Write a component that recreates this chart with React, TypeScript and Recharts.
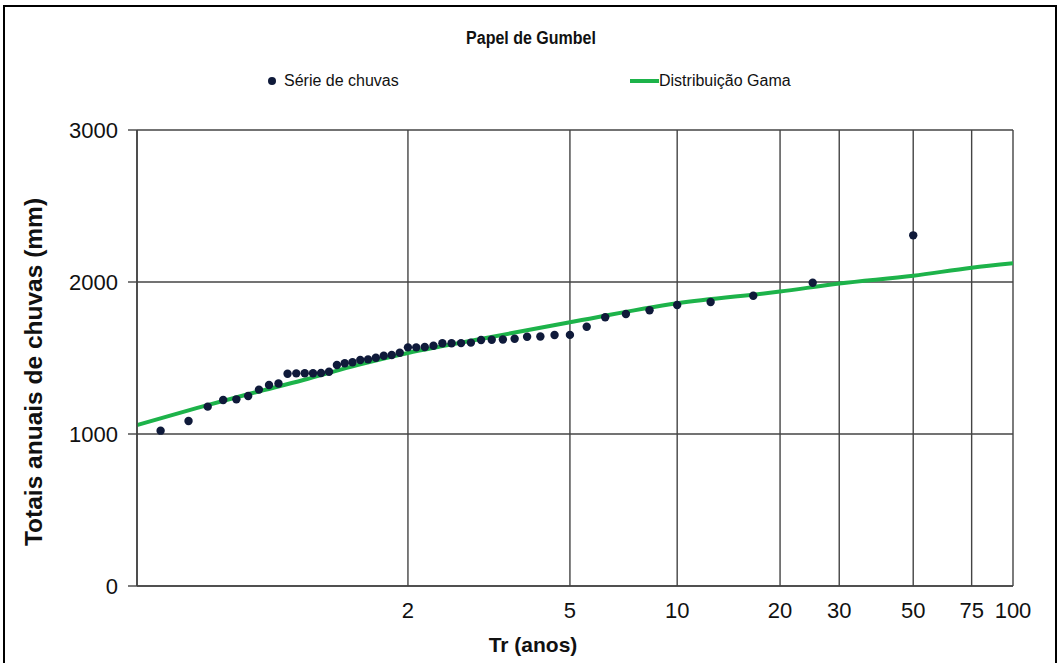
import { ComposedChart, Line, Scatter, XAxis, YAxis, CartesianGrid } from 'recharts'

// Gumbel paper: the x axis is the reduced variate of the return period
const gumbel = (tr: number) => -Math.log(-Math.log(1 - 1 / tr))

const TR_TICKS = [2, 5, 10, 20, 30, 50, 75, 100]
const Y_TICKS = [0, 1000, 2000, 3000]

// Série de chuvas (plotting position Tr, annual total in mm)
const SERIE_TR = [
  50, 25, 16.667, 12.5, 10, 8.333, 7.143, 6.25, 5.556, 5,
  4.545, 4.167, 3.846, 3.571, 3.333, 3.125, 2.941, 2.778, 2.632, 2.5,
  2.381, 2.273, 2.174, 2.083, 2, 1.9231, 1.8519, 1.7857, 1.7241, 1.6667,
  1.6129, 1.5625, 1.5152, 1.4706, 1.4286, 1.3889, 1.3514, 1.3158, 1.2821, 1.25,
  1.2195, 1.1905, 1.1628, 1.1364, 1.1111, 1.087, 1.0638, 1.0417, 1.0204,
]
const SERIE_MM = [
  2307, 1995, 1910, 1868, 1849, 1814, 1789, 1768, 1706, 1652,
  1651, 1641, 1640, 1627, 1622, 1620, 1618, 1601, 1598, 1597,
  1597, 1581, 1572, 1570, 1570, 1535, 1520, 1515, 1502, 1491,
  1487, 1472, 1465, 1454, 1410, 1401, 1400, 1400, 1399, 1396,
  1332, 1322, 1292, 1250, 1228, 1224, 1180, 1086, 1022,
]

// Distribuição Gama
const GAMA_TR = [1.01, 1.05, 1.14, 1.31, 1.6, 2, 2.35, 3, 5, 10, 20, 30, 50, 75, 100]
const GAMA_MM = [1059, 1170, 1265, 1355, 1455, 1533, 1575, 1630, 1735, 1860, 1937, 1990, 2041, 2094, 2123]

const serie = SERIE_TR.map((tr, i) => ({ u: gumbel(tr), value: SERIE_MM[i] }))
const gama = GAMA_TR.map((tr, i) => ({ u: gumbel(tr), value: GAMA_MM[i] }))

const GRID = '#444'
const GREEN = '#1db34a'
const DOT = '#0f1a3a'
const FONT = '"Liberation Sans", Arial, sans-serif'

const tickLabel = (u: number) => {
  const tr = TR_TICKS.find((t) => Math.abs(gumbel(t) - u) < 1e-6)
  return tr ? String(tr) : ''
}

export default function App() {
  return (
    <div
      style={{
        position: 'absolute',
        left: 0,
        top: 0,
        width: 1057,
        height: 663,
        overflow: 'hidden',
        background: '#fff',
        fontFamily: FONT,
        color: '#111',
      }}
    >
      <div
        style={{
          position: 'absolute',
          left: 3,
          top: 5,
          width: 1050,
          height: 700,
          border: '2px solid #000',
        }}
      />
      <div
        style={{
          position: 'absolute',
          left: 531,
          top: 38,
          transform: 'translate(-50%, -50%) scaleY(1.15)',
          whiteSpace: 'nowrap',
          fontSize: 16,
          fontWeight: 'bold',
        }}
      >
        Papel de Gumbel
      </div>
      <div style={{ position: 'absolute', left: 268, top: 72, fontSize: 16, display: 'flex', alignItems: 'center' }}>
        <span style={{ width: 8, height: 8, borderRadius: 4, background: DOT, display: 'inline-block', marginRight: 8 }} />
        Série de chuvas
      </div>
      <div style={{ position: 'absolute', left: 630, top: 72, fontSize: 16, display: 'flex', alignItems: 'center' }}>
        <span style={{ width: 29, height: 4, background: GREEN, display: 'inline-block' }} />
        Distribuição Gama
      </div>
      <div
        style={{
          position: 'absolute',
          left: 34,
          top: 372,
          transform: 'translate(-50%, -50%) rotate(-90deg)',
          whiteSpace: 'nowrap',
          fontSize: 24.5,
          fontWeight: 'bold',
        }}
      >
        Totais anuais de chuvas (mm)
      </div>
      <div
        style={{
          position: 'absolute',
          left: 533,
          top: 645,
          transform: 'translate(-50%, -50%)',
          whiteSpace: 'nowrap',
          fontSize: 21,
          fontWeight: 'bold',
        }}
      >
        Tr (anos)
      </div>
      <ComposedChart
        width={1057}
        height={663}
        margin={{ top: 130, right: 44, bottom: 0, left: 0 }}
        style={{ position: 'absolute', left: 0, top: 0 }}
      >
        <CartesianGrid stroke={GRID} strokeWidth={1.4} />
        <XAxis
          type="number"
          dataKey="u"
          domain={[gumbel(1.01), gumbel(100)]}
          ticks={TR_TICKS.map(gumbel)}
          tickFormatter={tickLabel}
          allowDataOverflow
          height={77}
          tickLine={false}
          tickSize={6}
          tickMargin={10}
          axisLine={{ stroke: GRID, strokeWidth: 1.6 }}
          tick={{ fill: '#111', fontSize: 22, fontFamily: FONT }}
        />
        <YAxis
          type="number"
          dataKey="value"
          domain={[0, 3000]}
          ticks={Y_TICKS}
          width={137}
          tickSize={9}
          tickMargin={10}
          tickLine={{ stroke: GRID, strokeWidth: 1.4 }}
          axisLine={{ stroke: GRID, strokeWidth: 1.6 }}
          tick={{ fill: '#111', fontSize: 22, fontFamily: FONT }}
        />
        <Line
          data={gama}
          dataKey="value"
          type="monotone"
          stroke={GREEN}
          strokeWidth={4}
          dot={false}
          isAnimationActive={false}
        />
        <Scatter
          data={serie}
          dataKey="value"
          fill={DOT}
          isAnimationActive={false}
          shape={(p: any) => <circle cx={p.cx} cy={p.cy} r={4.2} fill={DOT} />}
        />
      </ComposedChart>
    </div>
  )
}
